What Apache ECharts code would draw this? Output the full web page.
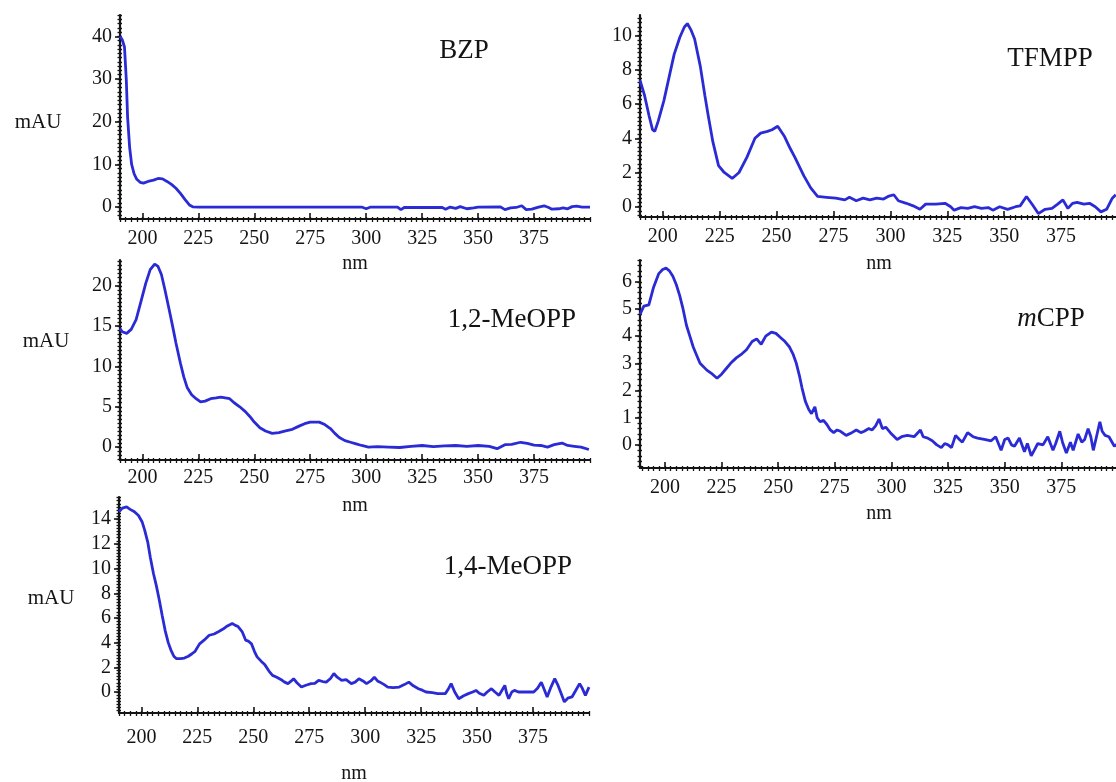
<!DOCTYPE html>
<html>
<head>
<meta charset="utf-8">
<style>
  html, body { margin: 0; padding: 0; background: #fff; }
  #chart { width: 1116px; height: 782px; }
</style>
<script src="https://cdn.jsdelivr.net/npm/echarts@6/dist/echarts.min.js"></script>
</head>
<body>
<div id="chart"></div>
<script>
// UV spectra, [wavelength nm, absorbance mAU]
const bzp = [
  [190, 40], [191, 39.2], [192, 37.5], [192.8, 30], [193.4, 21], [194.3, 14], [195.2, 10], [196.3, 7.8],
  [197.5, 6.5], [199, 5.8], [200.5, 5.6], [202.5, 6.0], [205, 6.3], [207, 6.7], [209, 6.6], [211, 6.0],
  [213, 5.3], [215, 4.4], [217, 3.2], [219, 1.8], [221, 0.5], [222.5, 0.05], [225, 0], [250, 0], [275, 0],
  [298, 0], [300, -0.4], [302, 0], [314, 0], [315.5, -0.6], [317, -0.1], [334, -0.1], [335.5, -0.5],
  [337.5, 0], [340, -0.3], [342, 0.1], [345, -0.4], [348, -0.2], [350, 0], [360, 0.05], [362, -0.6],
  [364.5, -0.2], [367, -0.1], [369.5, 0.3], [371.5, -0.6], [374, -0.5], [377, 0], [379.5, 0.3],
  [381.5, -0.1], [383, -0.5], [386, -0.4], [388, -0.2], [390, -0.4], [392, 0.1], [394, 0.2], [396.5, 0], [400, 0]
];

const tfmpp = [
  [190, 7.4], [192, 6.5], [194, 5.3], [195.5, 4.5], [196.5, 4.4], [198, 5.0], [200.5, 6.2], [203, 7.7],
  [205, 8.9], [207.5, 9.9], [209.5, 10.5], [210.8, 10.7], [212.5, 10.3], [214, 9.8], [216.5, 8.2],
  [218.5, 6.5], [220, 5.3], [222, 3.8], [224.5, 2.4], [227, 2.0], [230.5, 1.65], [233.5, 2.0], [237, 2.9],
  [240.5, 4.0], [243, 4.3], [246, 4.4], [248, 4.5], [250.5, 4.7], [253.5, 4.1], [256, 3.4], [258, 2.9],
  [262, 1.8], [265, 1.1], [268, 0.6], [272, 0.55], [276, 0.5], [280, 0.4], [282, 0.55], [285, 0.35],
  [288, 0.5], [291, 0.4], [294, 0.5], [297, 0.45], [299, 0.6], [301.5, 0.7], [303.5, 0.35], [307, 0.2],
  [310, 0.05], [313, -0.15], [315.5, 0.15], [320, 0.15], [324, 0.2], [326.5, 0.0], [328, -0.2], [331, -0.05],
  [334, -0.1], [337, 0], [340, -0.1], [343, -0.05], [345, -0.2], [348, 0], [351.5, -0.15], [355, 0.0],
  [357, 0.05], [359.8, 0.6], [362.5, 0.1], [365, -0.4], [368, -0.15], [371, -0.1], [373.5, 0.15],
  [375.8, 0.4], [378, -0.1], [380, 0.2], [382, 0.25], [385, 0.15], [387.5, 0.2], [390, 0.0], [392.5, -0.3],
  [395, -0.15], [397.5, 0.5], [399, 0.7]
];

const meopp12 = [
  [190, 14.7], [191, 14.3], [193, 14.1], [195, 14.6], [197.2, 15.8], [199.5, 18.2], [201.5, 20.3],
  [203.5, 22], [205.5, 22.7], [207, 22.4], [208.5, 21.4], [210, 19.6], [212, 17], [213.5, 15], [215, 12.9],
  [217, 10.4], [218.5, 8.7], [220, 7.4], [222, 6.5], [224, 6.0], [226, 5.6], [228, 5.7], [230.5, 6.0],
  [233, 6.1], [235, 6.2], [237, 6.1], [239, 6.0], [241, 5.5], [243.5, 5.0], [246, 4.4], [248, 3.8],
  [250, 3.1], [252.5, 2.4], [255, 2.0], [258, 1.7], [261, 1.8], [264, 2.0], [267, 2.2], [270, 2.6],
  [272.5, 2.9], [275, 3.1], [277, 3.1], [279, 3.1], [281.5, 2.8], [284, 2.3], [286, 1.7], [288, 1.2],
  [290.5, 0.8], [293, 0.6], [295.5, 0.4], [298, 0.2], [301, 0.0], [305, 0.05], [310, 0.0], [315, -0.05],
  [320, 0.1], [325, 0.2], [330, 0.05], [335, 0.15], [340, 0.2], [345, 0.1], [350, 0.2], [355, 0.1],
  [358.5, -0.2], [362, 0.3], [365, 0.35], [369, 0.6], [372, 0.45], [375, 0.25], [378, 0.2], [381, 0.0],
  [384, 0.3], [387.5, 0.5], [390, 0.2], [393, 0.1], [396, 0.0], [399.5, -0.3]
];

const mcpp = [
  [189, 4.8], [190.7, 5.1], [192.9, 5.15], [195, 5.8], [197.3, 6.3], [199, 6.45], [200.5, 6.5], [202, 6.4],
  [203.5, 6.2], [205, 5.9], [206.5, 5.5], [208, 5.0], [209.5, 4.4], [211, 4.0], [212.5, 3.6], [214, 3.3],
  [215.5, 3.0], [218.5, 2.75], [221, 2.6], [223, 2.45], [225, 2.6], [227, 2.8], [229, 3.0], [231.5, 3.2],
  [234, 3.35], [236, 3.5], [238.5, 3.8], [240.5, 3.9], [242.5, 3.7], [244.5, 4.0], [247, 4.15], [249, 4.1],
  [251, 3.95], [253, 3.8], [255, 3.6], [256.5, 3.35], [258, 3.0], [259.5, 2.5], [260.5, 2.1], [262, 1.6],
  [263.5, 1.3], [264.7, 1.15], [266.2, 1.4], [267.2, 1.0], [268.5, 0.85], [270, 0.9], [271.5, 0.75],
  [273, 0.55], [274.5, 0.45], [276, 0.55], [277.5, 0.5], [280, 0.35], [282.5, 0.45], [284.5, 0.55],
  [286.5, 0.45], [288, 0.5], [290, 0.6], [291.5, 0.55], [293, 0.7], [294.5, 0.95], [296, 0.6], [297.5, 0.65],
  [299.5, 0.45], [302.5, 0.2], [304.5, 0.3], [307, 0.35], [310, 0.3], [312.8, 0.55], [314, 0.3], [316, 0.25],
  [318, 0.15], [320, 0.0], [322, -0.1], [323.5, 0.05], [325, 0.0], [326.5, -0.1], [328.3, 0.35], [330, 0.2],
  [331.3, 0.1], [333.6, 0.45], [336, 0.3], [338, 0.25], [341, 0.2], [344, 0.15], [346, 0.3], [348.4, -0.2],
  [350, 0.2], [351.5, 0.25], [353, 0.0], [354.3, -0.05], [356.5, 0.25], [358.7, -0.25], [360, 0.05],
  [361.7, -0.4], [363, -0.2], [364.6, 0.05], [366.9, 0.0], [369, 0.3], [371.3, -0.2], [372.5, 0.05],
  [374.3, 0.5], [375.5, 0.1], [377.2, -0.3], [379, 0.1], [380.2, -0.2], [382.4, 0.4], [384, 0.1],
  [385.3, 0.2], [386.8, 0.6], [388, 0.3], [389.1, -0.2], [390.5, 0.3], [392, 0.85], [393, 0.5],
  [394.3, 0.35], [396, 0.3], [398.4, -0.05], [400, 0.05]
];

const meopp14 = [
  [190, 14.6], [191.5, 14.9], [193.4, 15.0], [195, 14.8], [196.9, 14.6], [198.7, 14.3], [200.3, 13.8],
  [201.5, 13.1], [202.9, 12.1], [204, 10.9], [205.4, 9.6], [206.7, 8.6], [208, 7.45], [209.3, 6.2],
  [210.6, 5.0], [212, 4.0], [213.2, 3.4], [214.5, 2.9], [215.7, 2.7], [217.5, 2.7], [219.2, 2.75],
  [221, 2.9], [222.6, 3.1], [224, 3.3], [226, 3.9], [228, 4.2], [230.3, 4.6], [232.5, 4.7], [234.6, 4.9],
  [236.5, 5.1], [238, 5.3], [240.6, 5.55], [242, 5.4], [243.2, 5.3], [245, 4.9], [246.6, 4.2], [248, 4.1],
  [249.2, 3.9], [250.5, 3.3], [251.7, 2.85], [253.5, 2.5], [255.2, 2.2], [257, 1.7], [258.6, 1.35],
  [260.5, 1.2], [262.9, 0.95], [264, 0.8], [265.5, 0.68], [267, 0.9], [268, 1.08], [269.5, 0.75],
  [271.5, 0.4], [273.5, 0.55], [275.8, 0.68], [277.5, 0.7], [279.2, 0.95], [281, 0.85], [282.6, 0.8],
  [284.5, 1.1], [286, 1.5], [287.5, 1.2], [289.5, 0.95], [291.5, 1.0], [293.8, 0.68], [295.5, 0.8],
  [297.2, 1.08], [299, 0.9], [300.6, 0.68], [302.5, 0.9], [304.1, 1.2], [305.5, 0.9], [306.6, 0.8],
  [308.5, 0.6], [310.1, 0.4], [312.5, 0.35], [315.2, 0.4], [317.5, 0.6], [319.5, 0.8], [321.5, 0.5],
  [323.8, 0.27], [325.5, 0.15], [327.2, 0.0], [330, -0.05], [332.4, -0.13], [335.8, -0.13], [337, 0.2],
  [338.4, 0.68], [340, 0.0], [341.8, -0.54], [344, -0.3], [346.1, -0.13], [348, 0.0], [349.5, 0.13],
  [351, -0.1], [353, -0.27], [354.5, 0.0], [356.4, 0.27], [358, 0.0], [359.8, -0.27], [361, 0.1],
  [362.4, 0.54], [363.2, -0.1], [364.1, -0.54], [365.5, 0.0], [366.7, 0.13], [368.5, 0.0], [370.1, 0.0],
  [373, 0.0], [375.3, 0.0], [377, 0.3], [378.7, 0.8], [380, 0.2], [381.3, -0.4], [383, 0.4], [384.7, 1.08],
  [386, 0.6], [387.3, 0.0], [389, -0.8], [390.5, -0.5], [392.4, -0.4], [394, 0.1], [395.8, 0.68],
  [397, 0.3], [398.4, -0.27], [400, 0.4]
];

// tick labels
const xLabels = [200, 225, 250, 275, 300, 325, 350, 375];
const bzpYLabels = [0, 10, 20, 30, 40];
const tfmppYLabels = [0, 2, 4, 6, 8, 10];
const meopp12YLabels = [0, 5, 10, 15, 20];
const mcppYLabels = [0, 1, 2, 3, 4, 5, 6];
const meopp14YLabels = [0, 2, 4, 6, 8, 10, 12, 14];

function steps(a, b, s) {
  const out = [];
  for (let v = a; v <= b + 1e-9; v += s) out.push(+v.toFixed(3));
  return out;
}

const FONT = '"Liberation Serif", "Times New Roman", serif';
const INK = '#141414';
const BLUE = '#2b2bd6';

const panels = [
  { data: bzp, left: 120, top: 15, width: 470, height: 204, xMin: 190, yMin: -2.8, yMax: 45,
    yLabels: bzpYLabels, yMinor: 1, labelMargin: 10, nameGap: 35,
    title: { text: 'BZP', x: 464, y: 51 }, mau: { x: 38, y: 122 } },
  { data: tfmpp, left: 640, top: 15, width: 478, height: 202, xMin: 190, yMin: -0.6, yMax: 11.2,
    yLabels: tfmppYLabels, yMinor: 0.25, labelMargin: 10, nameGap: 37,
    title: { text: 'TFMPP', x: 1050, y: 59 } },
  { data: meopp12, left: 120, top: 260, width: 470, height: 200, xMin: 190, yMin: -1.6, yMax: 23.2,
    yLabels: meopp12YLabels, yMinor: 0.5, labelMargin: 8, nameGap: 36,
    title: { text: '1,2-MeOPP', x: 512, y: 320 }, mau: { x: 46, y: 341 } },
  { data: mcpp, left: 640, top: 260, width: 478, height: 208, xMin: 189, yMin: -0.85, yMax: 6.8,
    yLabels: mcppYLabels, yMinor: 0.2, labelMargin: 10, nameGap: 36,
    title: { text: '{i|m}CPP', x: 1051, y: 319 } },
  { data: meopp14, left: 119, top: 497, width: 470, height: 216, xMin: 190, yMin: -1.7, yMax: 15.8,
    yLabels: meopp14YLabels, yMinor: 0.25, labelMargin: 15, nameGap: 51,
    title: { text: '1,4-MeOPP', x: 508, y: 567 }, mau: { x: 51, y: 598 } }
];

const option = {
  animation: false,
  backgroundColor: '#fff',
  grid: [], xAxis: [], yAxis: [], series: [], graphic: []
};

const hidden = { axisLine: { show: false, onZero: false }, axisLabel: { show: false }, splitLine: { show: false } };

panels.forEach((p, i) => {
  option.grid.push({ left: p.left, top: p.top, width: p.width, height: p.height, outerBoundsMode: 'none' });

  const xMinor = steps(Math.ceil(p.xMin / 2.5) * 2.5, 400, 2.5);
  const yMinor = steps(Math.ceil(p.yMin / p.yMinor) * p.yMinor, p.yMax, p.yMinor);
  const xBase = { type: 'value', gridIndex: i, position: 'bottom', min: p.xMin, max: 400 };
  const yBase = { type: 'value', gridIndex: i, position: 'left', min: p.yMin, max: p.yMax };
  const tickStyle = { color: INK, width: 1.3 };

  // main x axis: line, labels, major ticks pointing up
  option.xAxis.push(Object.assign({}, xBase, {
    axisLine: { onZero: false, lineStyle: { color: INK, width: 2.2 } },
    axisTick: { customValues: xLabels, inside: true, length: 6, lineStyle: { color: INK, width: 1.6 } },
    axisLabel: { customValues: xLabels, margin: p.labelMargin, fontFamily: FONT, fontSize: 20, color: INK },
    splitLine: { show: false },
    name: 'nm', nameLocation: 'middle', nameGap: p.nameGap,
    nameTextStyle: { fontFamily: FONT, fontSize: 20, color: INK }
  }));
  // minor x ticks crossing the line
  option.xAxis.push(Object.assign({}, xBase, hidden, {
    axisTick: { customValues: xMinor, length: 3, lineStyle: tickStyle }
  }));
  option.xAxis.push(Object.assign({}, xBase, hidden, {
    axisTick: { customValues: xMinor, inside: true, length: 2, lineStyle: tickStyle }
  }));

  // main y axis: line, labels, major ticks pointing left
  option.yAxis.push(Object.assign({}, yBase, {
    axisLine: { show: true, onZero: false, lineStyle: { color: INK, width: 2.2 } },
    axisTick: { show: true, customValues: p.yLabels, length: 5, lineStyle: { color: INK, width: 1.6 } },
    axisLabel: { customValues: p.yLabels, margin: 8, fontFamily: FONT, fontSize: 20, color: INK },
    splitLine: { show: false }
  }));
  // minor y ticks crossing the line
  option.yAxis.push(Object.assign({}, yBase, hidden, {
    axisTick: { show: true, customValues: yMinor, length: 2.5, lineStyle: tickStyle }
  }));
  option.yAxis.push(Object.assign({}, yBase, hidden, {
    axisTick: { show: true, customValues: yMinor, inside: true, length: 2, lineStyle: tickStyle }
  }));

  option.series.push({
    type: 'line', xAxisIndex: 3 * i, yAxisIndex: 3 * i, data: p.data,
    symbol: 'none', clip: true,
    lineStyle: { color: BLUE, width: 2.8 }
  });

  option.graphic.push({
    type: 'text', x: p.title.x, y: p.title.y, silent: true,
    style: {
      text: p.title.text, fontFamily: FONT, fontSize: 27, fill: INK,
      align: 'center', verticalAlign: 'middle',
      rich: { i: { fontFamily: FONT, fontSize: 27, fontStyle: 'italic', fill: INK } }
    }
  });
  if (p.mau) {
    option.graphic.push({
      type: 'text', x: p.mau.x, y: p.mau.y, silent: true,
      style: {
        text: 'mAU', fontFamily: FONT, fontSize: 21, fill: INK,
        align: 'center', verticalAlign: 'middle'
      }
    });
  }
});

const chart = echarts.init(document.getElementById('chart'), null, { renderer: 'canvas' });
chart.setOption(option);
</script>
</body>
</html>
